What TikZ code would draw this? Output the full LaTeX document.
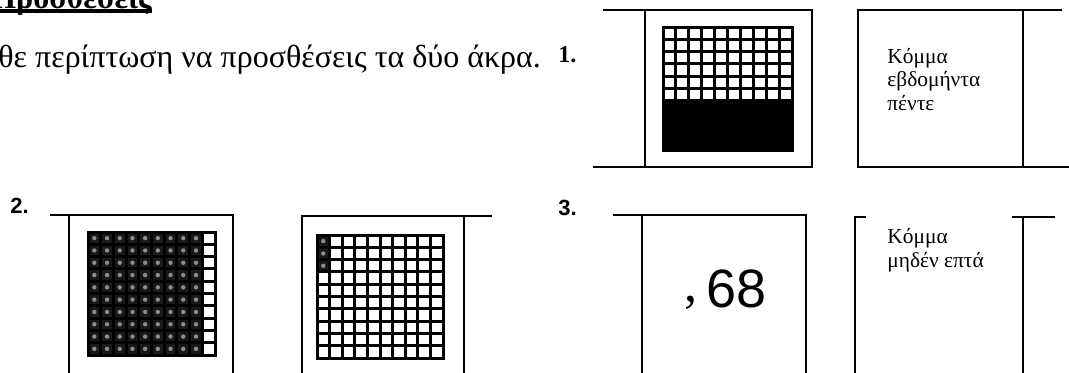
\documentclass[tikz,border=0pt]{standalone}
\usepackage{fontspec}
\setmainfont{Liberation Serif}
\newfontfamily\numfont{Liberation Sans}
\begin{document}
\begin{tikzpicture}[x=.5pt,y=-.5pt,
                    line/.style={line width=1pt},
                    gridline/.style={line width=1.5pt,line cap=rect},
                    dark/.style={fill=black!90},
                    speck/.style={fill=black!45},
                    numlabel/.style={font=\numfont\bfseries\fontsize{11}{13}\selectfont,anchor=base west,inner sep=0pt},
                    words/.style={font=\fontsize{10.7}{11.75}\selectfont,align=left,anchor=base west,inner sep=0pt}]
 \useasboundingbox (0,0) rectangle (1069,372);
 % heading and task
 \node[font=\bfseries\fontsize{16}{19}\selectfont,anchor=base east,inner sep=0pt] (title) at (152,8) {Προσθέσεις};
 \draw[line width=1.6pt] ([yshift=-1.5pt]title.base west) -- ([yshift=-1.5pt]title.base east);
 \node[font=\fontsize{16}{19}\selectfont,anchor=base west,inner sep=0pt] (task) at (-2,67) {θε περίπτωση να προσθέσεις τα δύο άκρα.};
 % domino 1
 \node[numlabel,font=\bfseries\fontsize{12}{14}\selectfont] (n1) at (558,62) {1.};
 \draw[line] (603,10) -- (645,10); \draw[line] (593,167) -- (645,167);
 \draw[line] (645,10) rectangle (812,167);
 \fill (663,100.8) rectangle (792,150);
 \foreach \i in {0,...,10} {
   \draw[gridline] ({663+12.9*\i},27) -- ({663+12.9*\i},150);
   \draw[gridline] (663,{27+12.3*\i}) -- (792,{27+12.3*\i});
 }
 \draw[line] (858,10) rectangle (1023,167);
 \draw[line] (1023,10) -- (1062,10); \draw[line] (1023,167) -- (1069,167);
 \node[words] (t1) at (887,110) {Κόμμα\\εβδομήντα\\πέντε};
 % domino 2
 \node[numlabel] (n2) at (10,213) {2.};
 \draw[line] (50,215) -- (69,215);
 \draw[line] (69,215) rectangle (233,374);
 \fill[dark] (88,232) rectangle (202.3,355);
 \foreach \c in {0,...,8} \foreach \r in {0,...,9}
   \fill[speck] ({94.35+12.7*\c},{238.15+12.3*\r}) circle[radius=1.1pt];
 \foreach \i in {0,...,10} {
   \draw[gridline] ({88+12.7*\i},232) -- ({88+12.7*\i},355);
   \draw[gridline] (88,{232+12.3*\i}) -- (215,{232+12.3*\i});
 }
 \draw[line] (302,216) rectangle (464,374);
 \draw[line] (464,216) -- (492,216);
 \fill[dark] (317,235) rectangle (329.6,271.9);
 \foreach \r in {0,1,2}
   \fill[speck] (323.3,{241.15+12.3*\r}) circle[radius=1.1pt];
 \foreach \i in {0,...,10} {
   \draw[gridline] ({317+12.6*\i},235) -- ({317+12.6*\i},358);
   \draw[gridline] (317,{235+12.3*\i}) -- (443,{235+12.3*\i});
 }
 % domino 3
 \node[numlabel] (n3) at (558,215) {3.};
 \draw[line] (613,215) -- (642,215);
 \draw[line] (642,215) rectangle (806,374);
 \node[font=\fontsize{26}{30}\selectfont,anchor=base west,inner sep=0pt] (comma) at (684,301) {,};
 \node[font=\numfont\fontsize{27}{31}\selectfont,anchor=base west,inner sep=0pt] (digits) at (706,307) {68};
 \draw[line] (866,217) -- (855,217) -- (855,374);
 \draw[line] (1012,217) -- (1055,217);
 \draw[line] (1023,217) -- (1023,374);
 \node[words] (t3) at (887,267) {Κόμμα\\μηδέν επτά};
\end{tikzpicture}
\end{document}
